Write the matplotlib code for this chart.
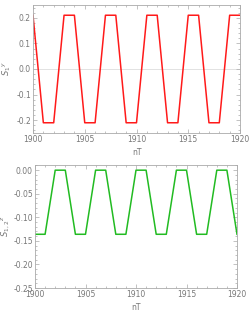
import matplotlib.pyplot as plt
import numpy as np
from matplotlib.ticker import MultipleLocator, FormatStrFormatter

# data
nT = np.arange(1900, 1921)
s1y = [0.21, -0.21, -0.21, 0.21, 0.21, -0.21, -0.21, 0.21, 0.21, -0.21, -0.21,
       0.21, 0.21, -0.21, -0.21, 0.21, 0.21, -0.21, -0.21, 0.21, 0.21]
s12z = [-0.136, -0.136, 0.0, 0.0, -0.136, -0.136, 0.0, 0.0, -0.136, -0.136, 0.0,
        0.0, -0.136, -0.136, 0.0, 0.0, -0.136, -0.136, 0.0, 0.0, -0.136]

gray = "#777777"
frame = "#aaaaaa"

fig = plt.figure(figsize=(2.49, 3.19), dpi=100)
ax1 = fig.add_axes([33 / 249, 1 - 133 / 319, 207 / 249, 128 / 319])
ax2 = fig.add_axes([35 / 249, 1 - 288 / 319, 202 / 249, 123 / 319])


def style(ax, ymaj, ymin, fmt):
    for sp in ax.spines.values():
        sp.set_color(frame)
        sp.set_linewidth(0.6)
    ax.xaxis.set_major_locator(MultipleLocator(5))
    ax.xaxis.set_minor_locator(MultipleLocator(1))
    ax.yaxis.set_major_locator(MultipleLocator(ymaj))
    ax.yaxis.set_minor_locator(MultipleLocator(ymin))
    ax.yaxis.set_major_formatter(FormatStrFormatter(fmt))
    ax.tick_params(which="both", direction="in", top=True, right=True,
                   colors=frame, labelcolor=gray, labelsize=5.5, width=0.5)
    ax.tick_params(which="major", length=3, pad=1.5)
    ax.tick_params(which="minor", length=1.5)
    ax.set_xlim(1900, 1920)
    ax.set_xlabel("nT", fontsize=5.5, color=gray, labelpad=3)


ax1.plot(nT, s1y, color="#ff1a1a", linewidth=1.1)
ax1.axhline(0, color="#dddddd", linewidth=0.6, zorder=0)
style(ax1, 0.1, 0.02, "%.1f")
ax1.set_ylim(-0.25, 0.25)
ax1.set_ylabel(r"$S_1{}^y$", fontsize=6, color=gray, labelpad=2)

ax2.plot(nT, s12z, color="#22bb22", linewidth=1.1)
style(ax2, 0.05, 0.01, "%.2f")
ax2.set_ylim(-0.25, 0.011)
ax2.set_ylabel(r"$S_{1,2}{}^z$", fontsize=6, color=gray, labelpad=0.5)

fig.savefig("out.png", dpi=100)
